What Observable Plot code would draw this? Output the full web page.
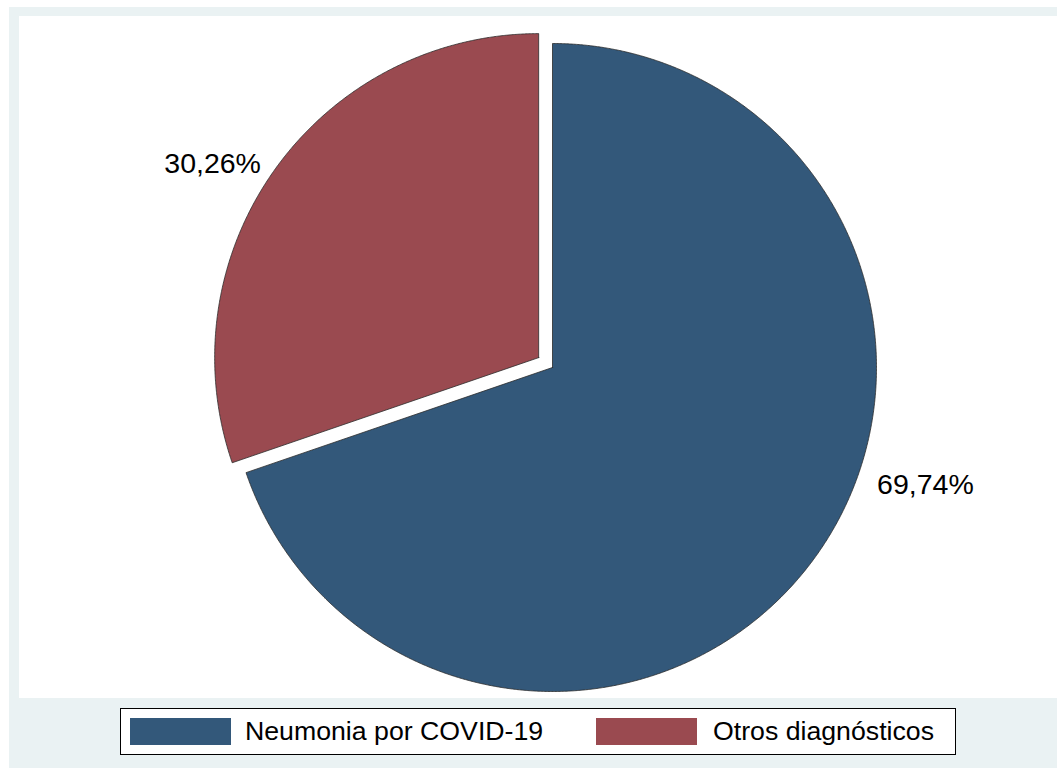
<!DOCTYPE html>
<html>
<head>
<meta charset="utf-8">
<script src="https://cdn.jsdelivr.net/npm/d3@7"></script>
<script src="https://cdn.jsdelivr.net/npm/@observablehq/plot@0.6"></script>
<style>
  html, body { margin: 0; padding: 0; background: #ffffff; }
  body { width: 1057px; height: 768px; position: relative; overflow: hidden;
         font-family: "Liberation Sans", Arial, Helvetica, sans-serif; }
  #bg { position: absolute; left: 9px; top: 7px; width: 1048px; height: 761px; background: #EAF2F3; }
  #chart { position: absolute; left: 19px; top: 16px; width: 1038px; height: 682px; background: #ffffff; }
  #chart svg { display: block; }
  #legend { position: absolute; left: 120px; top: 708px; width: 834px; height: 45px;
            border: 1px solid #000; background: #fff; }
  .sw { position: absolute; top: 9px; width: 101px; height: 27px; }
  .lt { position: absolute; top: 0; line-height: 45px; font-size: 26.7px; color: #000; white-space: nowrap; }
</style>
</head>
<body>
<div id="bg"></div>
<div id="chart"></div>
<div id="legend"></div>
<script>
// ---- data ----
const categories = ["Neumonia por COVID-19", "Otros diagnósticos"];
const percents = [69.74, 30.26];
const labels = ["69,74%", "30,26%"];
const colors = ["#33587A", "#9A4A50"];
const exploded = [false, true];

// ---- layout (pixels / unit-radius coordinates) ----
const W = 1038, H = 682;
const R = 324;              // pie radius in px
const cx = 533, cy = 351;   // pie centre inside the svg
const explodeDist = 17 / R; // explode offset in radius units
const labelAt = [[1.151, -0.361], [-1.049, 0.630]]; // label centres, radius units

// build slice polygons (unit radius, y up, clockwise from 12 o'clock)
const total = d3.sum(percents);
const rows = [];
let start = 0;
percents.forEach((v, i) => {
  const a0 = start / total * 2 * Math.PI;
  const a1 = (start + v) / total * 2 * Math.PI;
  start += v;
  const mid = (a0 + a1) / 2;
  const ox = exploded[i] ? Math.sin(mid) * explodeDist : 0;
  const oy = exploded[i] ? Math.cos(mid) * explodeDist : 0;
  rows.push({cat: categories[i], x: ox, y: oy});
  const n = Math.max(2, Math.ceil((a1 - a0) / (Math.PI / 720)));
  for (let k = 0; k <= n; k++) {
    const a = a0 + (a1 - a0) * k / n;
    rows.push({cat: categories[i], x: ox + Math.sin(a), y: oy + Math.cos(a)});
  }
  rows.push({cat: categories[i], x: ox, y: oy});
});

const labelRows = labels.map((t, i) => ({text: t, x: labelAt[i][0], y: labelAt[i][1]}));

const plot = Plot.plot({
  width: W,
  height: H,
  margin: 0,
  style: {background: "#ffffff", fontFamily: "'Liberation Sans', Arial, Helvetica, sans-serif"},
  x: {type: "linear", domain: [-cx / R, (W - cx) / R], range: [0, W], axis: null},
  y: {type: "linear", domain: [cy / R, -(H - cy) / R], range: [0, H], axis: null},
  color: {domain: categories, range: colors},
  marks: [
    Plot.line(rows, {x: "x", y: "y", z: "cat", fill: "cat", stroke: "#2b2b2b", strokeWidth: 0.8, curve: "linear-closed"}),
    Plot.text(labelRows, {x: "x", y: "y", text: "text", fontSize: 28.5, fill: "#000"})
  ]
});
document.getElementById("chart").appendChild(plot);

// legend
const lg = document.getElementById("legend");
const swLeft = [9, 475], txtLeft = [124, 592];
categories.forEach((c, i) => {
  const s = document.createElement("div");
  s.className = "sw"; s.style.left = swLeft[i] + "px"; s.style.background = colors[i];
  lg.appendChild(s);
  const t = document.createElement("div");
  t.className = "lt"; t.style.left = txtLeft[i] + "px"; t.textContent = c;
  lg.appendChild(t);
});
</script>
</body>
</html>
